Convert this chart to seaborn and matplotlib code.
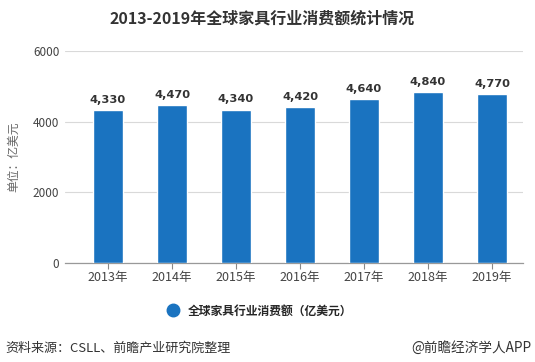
import matplotlib
matplotlib.use("Agg")
import matplotlib.pyplot as plt
import seaborn as sns
import pandas as pd
from matplotlib.lines import Line2D

years = ["2013年", "2014年", "2015年", "2016年", "2017年", "2018年", "2019年"]
values = [4330, 4470, 4340, 4420, 4640, 4840, 4770]
yticks = [0, 2000, 4000, 6000]

sns.set_theme(style="white")
plt.rcParams['font.family'] = ['Noto Sans CJK SC', 'DejaVu Sans']

df = pd.DataFrame({"year": years, "value": values})

fig = plt.figure(figsize=(5.35, 3.62), dpi=100)
ax = fig.add_axes([65/535, 99/362, (523-65)/535, (263-51)/362])

bar_color = "#1a73c0"
sns.barplot(data=df, x="year", y="value", color=bar_color, width=0.47,
            saturation=1, ax=ax, zorder=3)

ax.set_ylim(0, 6000)
ax.set_xlim(-0.672, 6.484)
ax.set_yticks(yticks)
ax.set_yticklabels([str(v) for v in yticks], color="#444444", fontsize=8.5)
ax.tick_params(axis="y", length=0, pad=4)
ax.tick_params(axis="x", length=4, width=0.8, color="#888888",
               labelsize=9, pad=2, direction="out", bottom=True)
for lab in ax.get_xticklabels():
    lab.set_color("#444444")
ax.grid(axis="y", color="#d9d9d9", linewidth=0.8, zorder=0)
for s in ["top", "right", "left"]:
    ax.spines[s].set_visible(False)
ax.spines["bottom"].set_color("#999999")
ax.spines["bottom"].set_linewidth(0.9)
ax.set_xlabel("")
ax.set_ylabel("单位：亿美元", color="#666666", fontsize=8.5)
ax.yaxis.set_label_coords(-0.098, 0.5)

for i, v in enumerate(values):
    ax.text(i, v + 150, f"{v:,}", ha="center", va="bottom", fontsize=8.2,
            fontweight="bold", color="#333333", family=['DejaVu Sans'])

fig.text(0.49, 1 - 19/362, "2013-2019年全球家具行业消费额统计情况", ha="center",
         va="center", fontsize=11.5, fontweight="bold", color="#333333")

# legend
handle = Line2D([0], [0], marker="o", linestyle="", markersize=9,
                markerfacecolor=bar_color, markeredgecolor=bar_color)
fig.legend([handle], ["全球家具行业消费额（亿美元）"], loc="center",
           bbox_to_anchor=(0.48, 1 - 311/362), frameon=False,
           handletextpad=0.3, prop={'weight': 'bold', 'size': 8.5})

fig.text(5/535, 1 - 348/362, "资料来源：CSLL、前瞻产业研究院整理", ha="left",
         va="center", fontsize=9.4, color="#333333")
fig.text(531/535, 1 - 348/362, "@前瞻经济学人APP", ha="right", va="center",
         fontsize=9.8, color="#333333")

fig.savefig("out.png", dpi=100, facecolor="white")
